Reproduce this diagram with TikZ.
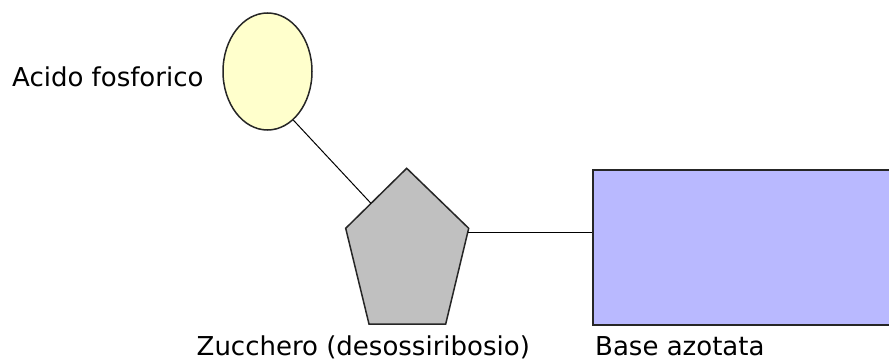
\documentclass[tikz,border=0pt]{standalone}
\usepackage{fontspec}
\setmainfont{DejaVu Sans}
\usetikzlibrary{shapes.geometric,calc}
\definecolor{phosfill}{RGB}{255,255,204}
\definecolor{sugarfill}{RGB}{192,192,192}
\definecolor{basefill}{RGB}{185,185,255}
\tikzset{
  outline/.style={draw=black!85, line width=1.5pt, line join=miter},
  bond/.style={draw=black, line width=1pt},
  caption/.style={anchor=base west, inner sep=0pt, font=\fontsize{26}{30}\selectfont}
}
\begin{document}
\begin{tikzpicture}[x=1pt, y=-1pt]
  \clip (0,0) rectangle (889,361);
  \fill[white] (0,0) rectangle (889,361);

  % phosphate group
  \node[outline, fill=phosfill, ellipse, minimum width=89pt, minimum height=117pt, inner sep=0pt] (phos) at (267.5,71.5) {};

  % sugar (pentagon)
  \coordinate (st) at (406.7,168.3);
  \coordinate (sr) at (468.7,228.3);
  \coordinate (sbr) at (445.7,324);
  \coordinate (sbl) at (369,324);
  \coordinate (sl) at (345.7,228.3);
  \path[outline, fill=sugarfill] (st) -- (sr) -- (sbr) -- (sbl) -- (sl) -- cycle;
  \coordinate (sugarin) at ($(sl)!0.415!(st)$);
  \coordinate (sugarout) at ($(sr)!0.04!(sbr)$);

  % nitrogenous base
  \node[outline, fill=basefill, anchor=north west, minimum width=320pt, minimum height=155pt, inner sep=0pt] (base) at (592.3,169) {};

  % bonds
  \draw[bond] (phos.-62) -- (sugarin);
  \draw[bond] (sugarout) -- (base.west |- sugarout);

  % labels
  \node[caption] (lphos) at (12,87) {Acido fosforico};
  \node[caption] (lsugar) at (196.5,355) {Zucchero (desossiribosio)};
  \node[caption] (lbase) at (595,355) {Base azotata};
\end{tikzpicture}
\end{document}
